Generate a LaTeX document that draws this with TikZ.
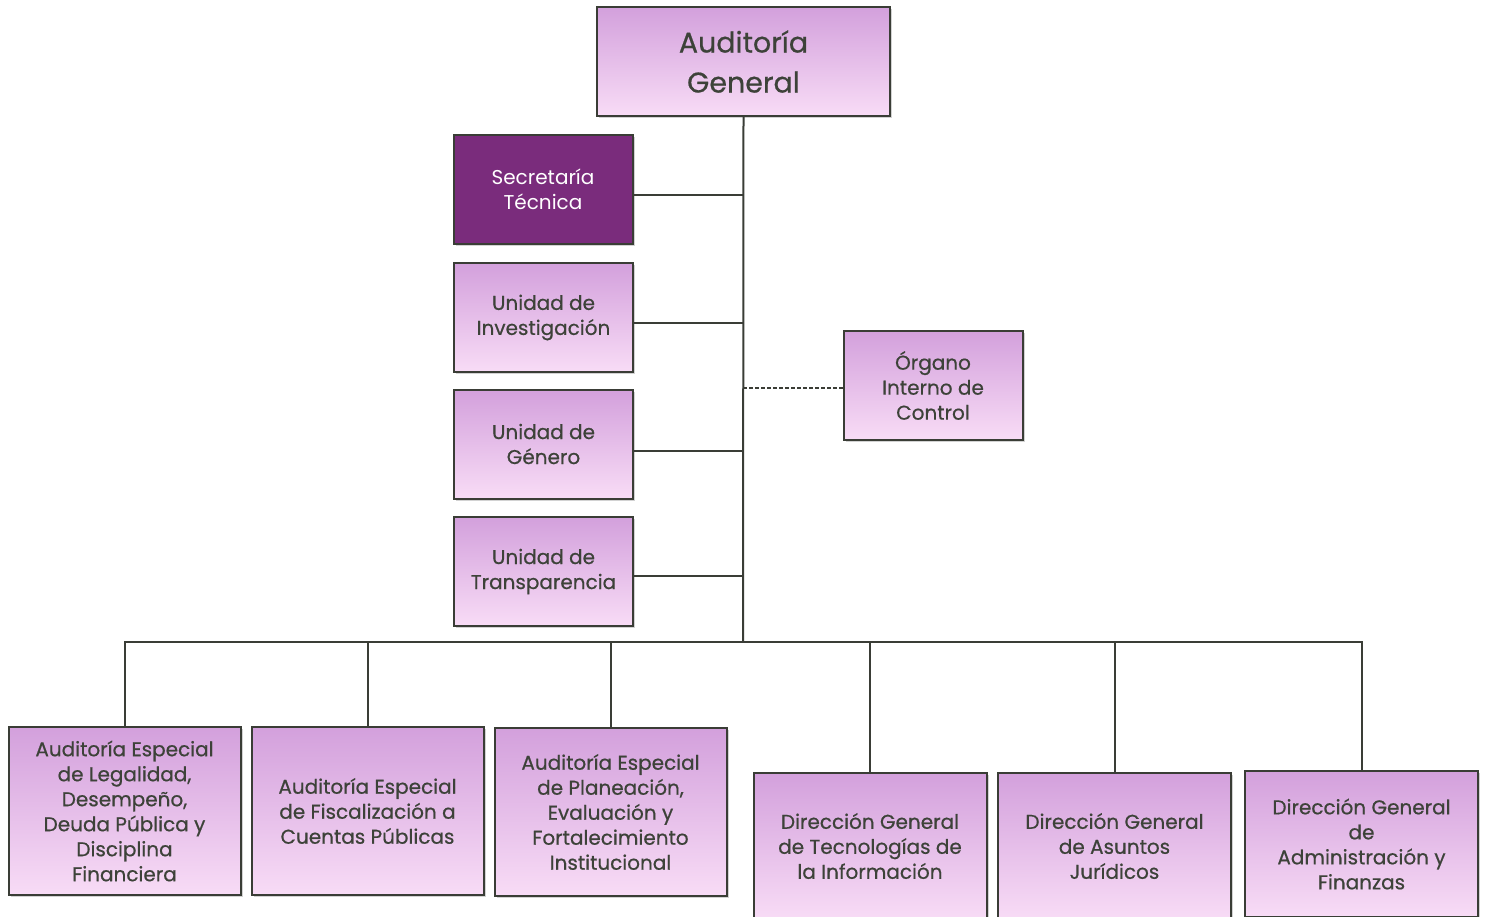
\documentclass[tikz,border=0pt]{standalone}
\usepackage{fontspec}
\setmainfont{Poppins}
\newfontfamily\semib{Poppins}[FakeBold=0.6]
\usetikzlibrary{shadows}
\definecolor{txt}{HTML}{3D4239}
\definecolor{edge}{HTML}{3A3D36}
\definecolor{topc}{HTML}{D3A0DC}
\definecolor{botc}{HTML}{F8DCF6}
\definecolor{secc}{HTML}{7A2C7C}
\begin{document}
\begin{tikzpicture}[x=1pt,y=-1pt,
  orgbox/.style={draw=edge, line width=2pt, top color=topc, bottom color=botc,
    text=txt, align=center, inner sep=0pt,
    drop shadow={shadow xshift=2pt, shadow yshift=-2pt, opacity=0.35},
    font=\semib\fontsize{20}{25}\selectfont},
  smallbox/.style={orgbox, minimum width=179pt, minimum height=109pt},
  lowbox/.style={orgbox, minimum width=232pt, minimum height=168pt},
  dgbox/.style={orgbox, minimum width=233pt, minimum height=146pt},
  conn/.style={draw=edge, line width=2pt}]
\useasboundingbox (0,0) rectangle (1486,916);
\clip (0,0) rectangle (1486,916);
\fill[white] (0,0) rectangle (1486,916);

\node[orgbox, minimum width=293pt, minimum height=109pt,
  font=\semib\fontsize{28.5}{40}\selectfont] (ag) at (743.5,61.5) {Auditoría\\General};

\node[smallbox, top color=secc, bottom color=secc, text=white,
  font=\fontsize{20}{25}\selectfont] (st) at (543,189) {Secretaría\\Técnica};
\node[smallbox] (ui) at (543.5,317.5) {Unidad de\\Investigación};
\node[smallbox] (ug) at (543.5,444) {Unidad de\\Género};
\node[smallbox] (ut) at (543.5,571.5) {Unidad de\\Transparencia};
\node[smallbox] (oic) at (933,385.5) {Órgano\\Interno de\\Control};

\node[lowbox] (b1) at (124.5,811) {Auditoría Especial\\de Legalidad,\\Desempeño,\\Deuda Pública y\\Disciplina\\Financiera};
\node[lowbox] (b2) at (367.5,811) {Auditoría Especial\\de Fiscalización a\\Cuentas Públicas};
\node[lowbox] (b3) at (610.5,812) {Auditoría Especial\\de Planeación,\\Evaluación y\\Fortalecimiento\\Institucional};
\node[dgbox] (b4) at (870,846) {Dirección General\\de Tecnologías de\\la Información};
\node[dgbox] (b5) at (1114.5,846) {Dirección General\\de Asuntos\\Jurídicos};
\node[dgbox] (b6) at (1361.5,844) {Dirección General\\de\\Administración y\\Finanzas};

\coordinate (bus) at (743,642);
\draw[conn] (ag.south) -- (bus);
\draw[conn] ([yshift=-6pt]st.east) -- ([yshift=-6pt]st.east -| bus);
\draw[conn] ([yshift=-5pt]ui.east) -- ([yshift=-5pt]ui.east -| bus);
\draw[conn] ([yshift=-7pt]ug.east) -- ([yshift=-7pt]ug.east -| bus);
\draw[conn] ([yshift=-4pt]ut.east) -- ([yshift=-4pt]ut.east -| bus);
\draw[conn, dash pattern=on 4pt off 2pt] ([yshift=-2pt]oic.west -| bus) -- ([yshift=-2pt]oic.west);
\draw[conn] (b1.north) -- (b1.north |- bus) -- (b6.north |- bus) -- (b6.north);
\draw[conn] (b2.north) -- (b2.north |- bus);
\draw[conn] (b3.north) -- (b3.north |- bus);
\draw[conn] (b4.north) -- (b4.north |- bus);
\draw[conn] (b5.north) -- (b5.north |- bus);
\end{tikzpicture}
\end{document}
